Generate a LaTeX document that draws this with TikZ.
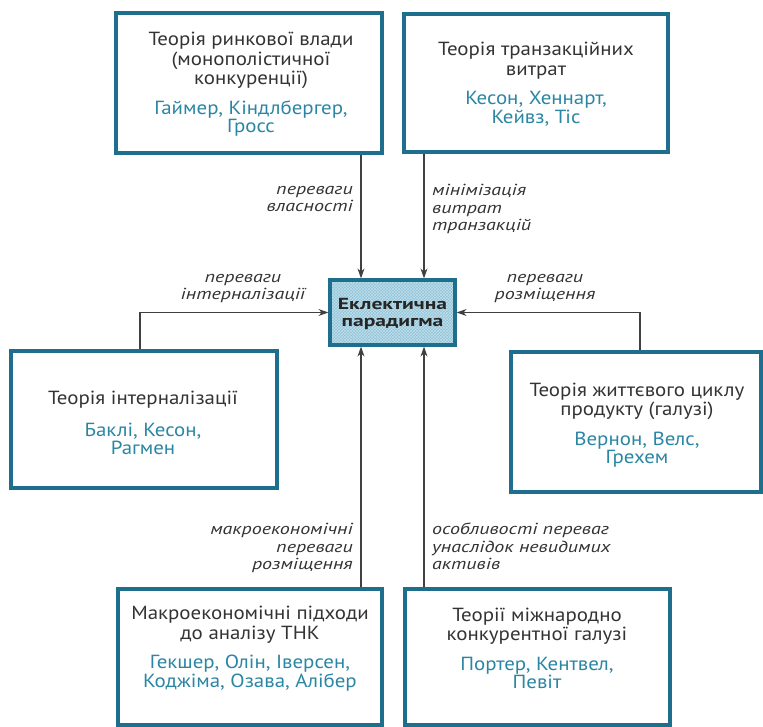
\documentclass[tikz,border=0pt]{standalone}
\usepackage{fontspec}
\setmainfont{PT Sans}[FakeStretch=1.1]
\newfontfamily\lblfont{PT Sans}[FakeStretch=1.25]
\newfontfamily\ctrfont{PT Sans}[FakeStretch=1.35]
\usetikzlibrary{arrows.meta,patterns}
\definecolor{boxblue}{HTML}{1E6E8E}
\definecolor{namecol}{HTML}{2A86A3}
\definecolor{txt}{HTML}{333333}
\definecolor{cfill}{HTML}{8FC3D8}
\begin{document}
\begin{tikzpicture}[x=1pt,y=-1pt,
  box/.style={draw=boxblue, line width=3.2pt, inner sep=0pt},
  btext/.style={align=center, text=txt, inner sep=0pt,
    font=\fontsize{19}{19.5}\selectfont},
  lbl/.style={font=\lblfont\itshape\fontsize{16}{17.5}\selectfont, text=txt, inner sep=0pt},
  arr/.style={draw=black!75, line width=1.1pt, -{Stealth[length=10pt,width=7pt]}}]
\useasboundingbox (0,0) rectangle (763,727);

% boxes
\node[box, minimum width=266pt, minimum height=140pt] (TL) at (249,83) {};
\node[box, minimum width=264pt, minimum height=138pt] (TR) at (536,83) {};
\node[box, minimum width=266pt, minimum height=137pt] (L) at (144,419.5) {};
\node[box, minimum width=250pt, minimum height=140pt] (R) at (636,422) {};
\node[box, minimum width=264pt, minimum height=136pt] (BL) at (250,657) {};
\node[box, minimum width=265pt, minimum height=136pt] (BR) at (537.5,657) {};

% box texts
\node[btext] (TLt) at (251,84.5)
  {Теорія ринкової влади\\(монополістичної\\конкуренції)\\[10pt]
   \textcolor{namecol}{Гаймер, Кіндлбергер,}\\[-1pt]\textcolor{namecol}{Гросс}};
\node[btext] (TRt) at (536,84)
  {Теорія транзакційних\\витрат\\[10pt]
   \textcolor{namecol}{Кесон, Хеннарт,}\\[-1pt]\textcolor{namecol}{Кейвз, Тіс}};
\node[btext] (Lt) at (143,423)
  {Теорія інтерналізації\\[12pt]
   \textcolor{namecol}{Баклі, Кесон,}\\[-1pt]\textcolor{namecol}{Рагмен}};
\node[btext] (Rt) at (637,425)
  {Теорія життєвого циклу\\продукту (галузі)\\[10pt]
   \textcolor{namecol}{Вернон, Велс,}\\[-1pt]\textcolor{namecol}{Грехем}};
\node[btext] (BLt) at (250,648.5)
  {Макроекономічні підходи\\до аналізу ТНК\\[10pt]
   \textcolor{namecol}{Гекшер, Олін, Іверсен,}\\[-1pt]\textcolor{namecol}{Коджіма, Озава, Алібер}};
\node[btext] (BRt) at (537,648.5)
  {Теорії міжнародно\\конкурентної галузі\\[10pt]
   \textcolor{namecol}{Портер, Кентвел,}\\[-1pt]\textcolor{namecol}{Певіт}};

% centre
\node[draw=boxblue, line width=3.2pt, preaction={fill=cfill},
  pattern=crosshatch, pattern color=white!45!cfill,
  minimum width=125pt, minimum height=65pt, inner sep=0pt] (C) at (392.5,312.5) {};
\node[align=center, inner sep=0pt, text=black!85,
  font=\ctrfont\bfseries\fontsize{16}{17}\selectfont] (Ct) at (392.5,314) {Еклектична\\парадигма};

% connector coordinates
\coordinate (va) at (361,0);
\coordinate (vb) at (424,0);
\coordinate (vl) at (140,0);
\coordinate (vr) at (640,0);

\draw[arr] (TL.south -| va) -- (C.north -| va);
\draw[arr] (TR.south -| vb) -- (C.north -| vb);
\draw[arr] (L.north -| vl) |- (C.west);
\draw[arr] (R.north -| vr) |- (C.east);
\draw[arr] (BL.north -| va) -- (C.south -| va);
\draw[arr] (BR.north -| vb) -- (C.south -| vb);

% labels
\node[lbl, align=right, anchor=north east] (l1) at (353,186) {переваги\\власності};
\node[lbl, align=left, anchor=north west] (l2) at (432,184) {мінімізація\\витрат\\транзакцій};
\node[lbl, align=center, anchor=north] (l3) at (243,274) {переваги\\інтерналізації};
\node[lbl, align=center, anchor=north] (l4) at (545,274) {переваги\\розміщення};
\node[lbl, align=right, anchor=north east] (l5) at (353,523) {макроекономічні\\переваги\\розміщення};
\node[lbl, align=left, anchor=north west] (l6) at (432,523) {особливості переваг\\унаслідок невидимих\\активів};
\end{tikzpicture}
\end{document}
